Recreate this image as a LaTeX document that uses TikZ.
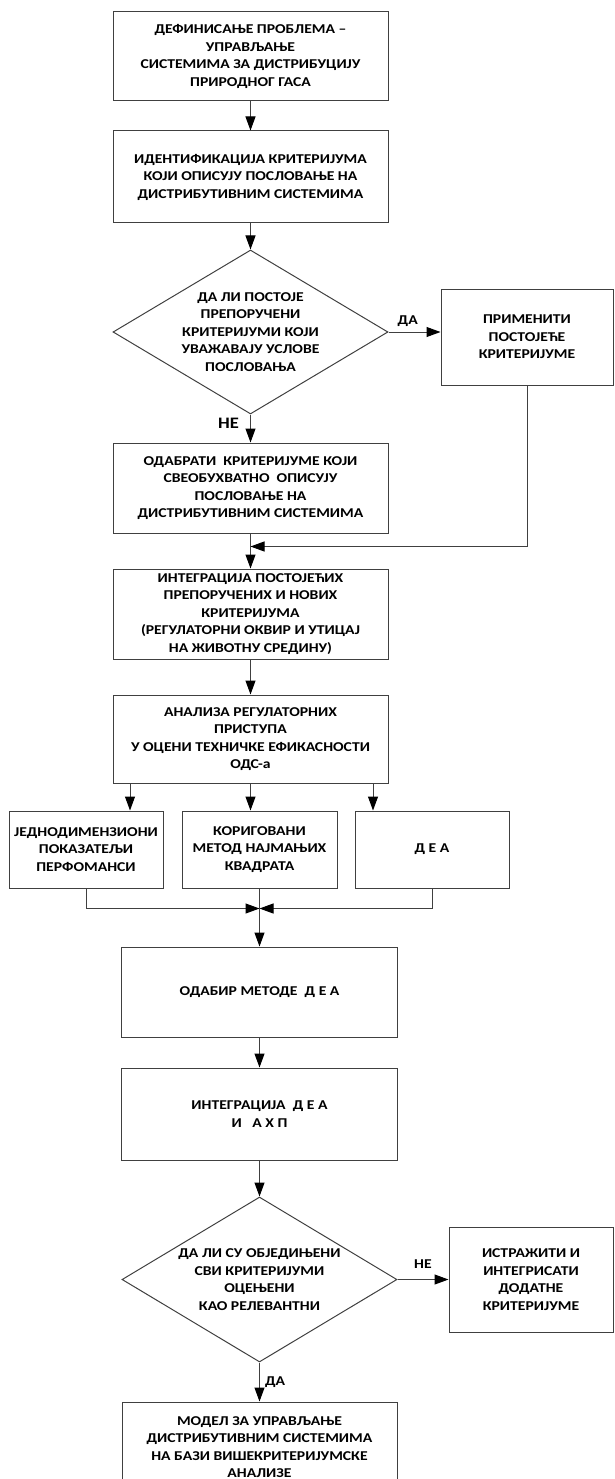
\documentclass[tikz,border=0pt]{standalone}
\usepackage{fontspec}
\setmainfont{Carlito}[FakeStretch=1.16]
\usetikzlibrary{positioning,shapes.geometric,arrows.meta}

\begin{document}
\begin{tikzpicture}[x=1pt,y=-1pt,
    box/.style={draw=black!75, line width=1pt, rectangle, align=center,
      inner sep=0pt, minimum width=275pt, font=\bfseries\fontsize{13.5}{17.5}\selectfont},
    decision/.style={draw=black!75, line width=1pt, diamond, aspect=1.68,
      align=center, inner sep=0pt, minimum width=275pt, minimum height=164pt,
      font=\bfseries\fontsize{13.5}{17.5}\selectfont},
    flow/.style={draw=black!75, line width=1pt, -{Triangle[length=14pt,width=10pt,color=black]}},
    lbl/.style={inner sep=1pt, font=\bfseries\fontsize{13.5}{15}\selectfont},
    biglbl/.style={inner sep=1pt, font=\bfseries\fontsize{16}{18}\selectfont}
  ]
  \useasboundingbox (0,0) rectangle (614,1479);

  \node (def)      [box, minimum height=89pt] at (250.5,56.5)
    {ДЕФИНИСАЊЕ ПРОБЛЕМА –\\УПРАВЉАЊЕ\\СИСТЕМИМА ЗА ДИСТРИБУЦИЈУ\\ПРИРОДНОГ ГАСА};
  \node (ident)    [box, minimum height=92pt, below=29pt of def]
    {ИДЕНТИФИКАЦИЈА КРИТЕРИЈУМА\\КОЈИ ОПИСУЈУ ПОСЛОВАЊЕ НА\\ДИСТРИБУТИВНИМ СИСТЕМИМА};
  \node (dec1)     [decision, below=26pt of ident]
    {ДА ЛИ ПОСТОЈЕ\\ПРЕПОРУЧЕНИ\\КРИТЕРИЈУМИ КОЈИ\\УВАЖАВАЈУ УСЛОВЕ\\ПОСЛОВАЊА};
  \node (apply)    [box, minimum width=172pt, minimum height=96pt, right=52pt of dec1, yshift=-5pt]
    {ПРИМЕНИТИ\\ПОСТОЈЕЋЕ\\КРИТЕРИЈУМЕ};
  \node (select)   [box, minimum height=90pt, below=28pt of dec1]
    {ОДАБРАТИ\ \ КРИТЕРИЈУМЕ КОЈИ\\СВЕОБУХВАТНО\ \ ОПИСУЈУ\\ПОСЛОВАЊЕ НА\\ДИСТРИБУТИВНИМ СИСТЕМИМА};
  \node (integr)   [box, minimum height=90pt, below=35pt of select]
    {ИНТЕГРАЦИЈА ПОСТОЈЕЋИХ\\ПРЕПОРУЧЕНИХ И НОВИХ\\КРИТЕРИЈУМА\\(РЕГУЛАТОРНИ ОКВИР И УТИЦАЈ\\НА ЖИВОТНУ СРЕДИНУ)};
  \node (analysis) [box, minimum height=88pt, below=35pt of integr]
    {АНАЛИЗА РЕГУЛАТОРНИХ\\ПРИСТУПА\\У ОЦЕНИ ТЕХНИЧКЕ ЕФИКАСНОСТИ\\ОДС-а};

  \node (mid)      [box, minimum width=155pt, minimum height=77pt, below=27pt of analysis, xshift=9pt]
    {КОРИГОВАНИ\\МЕТОД НАЈМАЊИХ\\КВАДРАТА};
  \node (uni)      [box, minimum width=154pt, minimum height=77pt, left=18pt of mid]
    {ЈЕДНОДИМЕНЗИОНИ\\ПОКАЗАТЕЉИ\\ПЕРФОМАНСИ};
  \node (dea)      [box, minimum width=154pt, minimum height=77pt, right=17pt of mid]
    {Д Е А};

  \node (choose)   [box, minimum width=276pt, minimum height=90pt, below=58pt of mid]
    {ОДАБИР МЕТОДЕ\ \ Д Е А};
  \node (integ2)   [box, minimum width=276pt, minimum height=92pt, below=30pt of choose]
    {ИНТЕГРАЦИЈА\ \ Д Е А\\И\ \ \ А Х П};
  \node (dec2)     [decision, minimum height=165pt, below=36pt of integ2]
    {ДА ЛИ СУ ОБЈЕДИЊЕНИ\\СВИ КРИТЕРИЈУМИ\\ОЦЕЊЕНИ\\КАО РЕЛЕВАНТНИ};
  \node (explore)  [box, minimum width=164pt, minimum height=105pt, right=51pt of dec2]
    {ИСТРАЖИТИ И\\ИНТЕГРИСАТИ\\ДОДАТНЕ\\КРИТЕРИЈУМЕ};
  \node (model)    [box, minimum width=275pt, minimum height=90pt, below=39pt of dec2]
    {МОДЕЛ ЗА УПРАВЉАЊЕ\\ДИСТРИБУТИВНИМ СИСТЕМИМА\\НА БАЗИ ВИШЕКРИТЕРИЈУМСКЕ\\АНАЛИЗЕ};

  \draw [flow] (def)   -- (ident);
  \draw [flow] (ident) -- (dec1);
  \draw [flow] (dec1)  -- node [lbl, above=4pt, pos=0.37] {ДА} (dec1 -| apply.west);
  \draw [flow] (dec1)  -- node [biglbl, left=10pt, pos=0.3] {НЕ} (select);

  \coordinate (join) at ([yshift=-13pt]select.south);
  \draw [flow] (apply)  |- (join);
  \draw [flow] (select) -- (integr);
  \draw [flow] (integr) -- (analysis);

  \draw [flow] ([xshift=-120.5pt]analysis.south) -- ([xshift=-120.5pt]analysis.south |- uni.north);
  \draw [flow] (analysis) -- (analysis |- mid.north);
  \draw [flow] ([xshift=122.5pt]analysis.south) -- ([xshift=122.5pt]analysis.south |- dea.north);

  \coordinate (merge) at ([yshift=-20pt]mid.south);
  \draw [flow] (uni) |- (merge);
  \draw [flow] (dea) |- (merge);
  \draw [flow] (mid) -- (choose);

  \draw [flow] (choose) -- (integ2);
  \draw [flow] (integ2) -- (dec2);
  \draw [flow] (dec2)   -- node [lbl, above=10pt] {НЕ} (explore);
  \draw [flow] (dec2)   -- node [lbl, right=4pt] {ДА} (model);
\end{tikzpicture}
\end{document}
